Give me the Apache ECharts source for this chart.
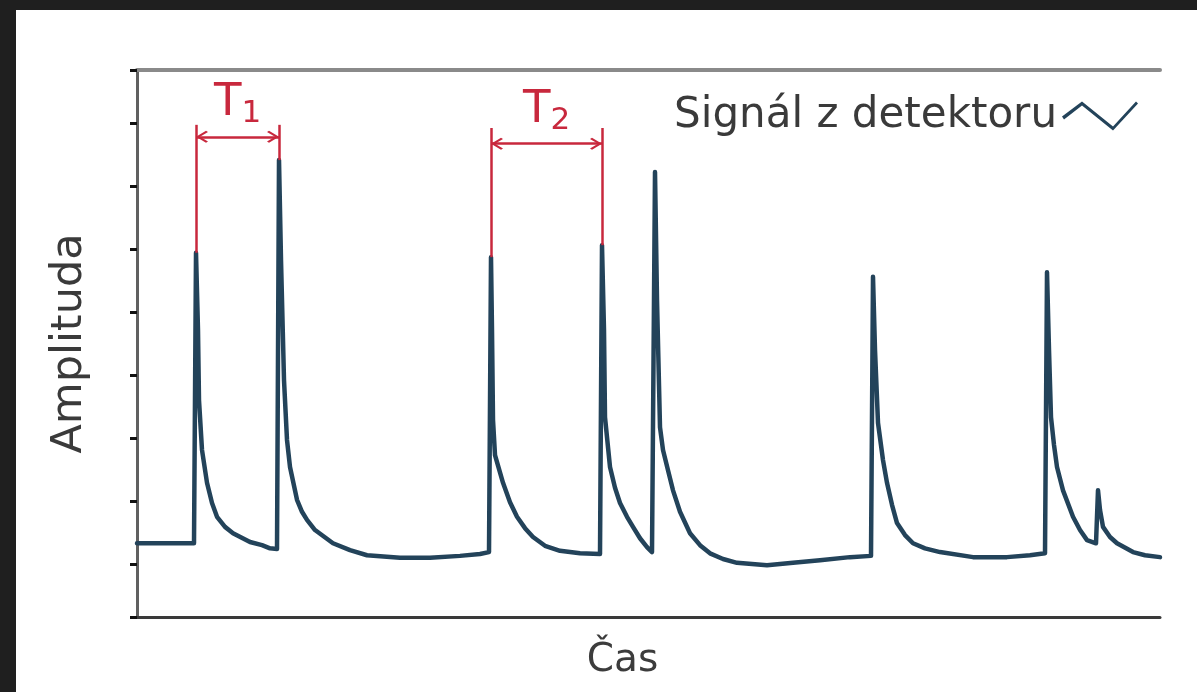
<!DOCTYPE html>
<html>
<head>
<meta charset="utf-8">
<script src="https://cdn.jsdelivr.net/npm/echarts@6/dist/echarts.min.js"></script>
<style>
  html, body { margin: 0; padding: 0; background: #1f1f1f; width: 1197px; height: 692px; overflow: hidden; }
  #chart { position: absolute; left: 16px; top: 10px; width: 1181px; height: 682px; background: #ffffff; }
</style>
</head>
<body>
<div id="chart"></div>
<script>
// Detector signal: time (arbitrary units) and amplitude samples
const time = [
  0, 57, 59, 61, 62, 65, 70, 75, 80, 88, 96, 113, 125, 133, 140,
  142, 144, 147, 150, 153, 160, 165, 170, 178, 196, 213, 230, 263, 293, 323, 343, 352,
  354, 355, 356, 358, 366, 373, 380, 388, 396, 408, 423, 443, 463,
  465, 467, 468, 473, 478, 483, 490, 496, 503, 510, 515,
  518, 520, 523, 526, 531, 536, 543, 553, 563, 573, 586, 600, 630, 656, 683, 713, 734,
  736, 738, 741, 746, 750, 755, 760, 768, 776, 788, 803, 836, 870, 893, 908,
  910, 912, 914, 917, 920, 926, 936, 943, 950, 959,
  961, 963, 966, 973, 980, 996, 1008, 1023
];
const amplitude = [
  1.33, 1.33, 5.94, 4.71, 3.60, 2.81, 2.29, 1.97, 1.75, 1.59, 1.49, 1.35, 1.30, 1.25, 1.24,
  7.41, 5.83, 3.92, 2.97, 2.54, 2.02, 1.83, 1.70, 1.54, 1.33, 1.22, 1.14, 1.10, 1.10, 1.13, 1.16, 1.19,
  5.87, 4.71, 3.29, 2.73, 2.29, 1.98, 1.75, 1.57, 1.43, 1.29, 1.21, 1.17, 1.16,
  6.06, 4.71, 3.33, 2.54, 2.21, 1.97, 1.75, 1.59, 1.41, 1.27, 1.19,
  7.22, 5.19, 3.17, 2.81, 2.49, 2.17, 1.83, 1.49, 1.30, 1.17, 1.08, 1.02, 0.98, 1.02, 1.06, 1.11, 1.13,
  5.56, 4.40, 3.24, 2.65, 2.29, 1.94, 1.65, 1.46, 1.33, 1.25, 1.19, 1.11, 1.11, 1.14, 1.17,
  5.63, 4.40, 3.33, 2.89, 2.54, 2.17, 1.75, 1.54, 1.38, 1.33,
  2.17, 1.86, 1.59, 1.43, 1.33, 1.19, 1.14, 1.11
];

// Axis extents and tick positions
const timeRange = [0, 1023];
const ampRange = [0.16, 8.84];
const ampTicks = [0.16, 1, 2, 3, 4, 5, 6, 7, 8, 8.84];

// Period brackets T1, T2 between neighbouring peaks
const periodNames = ['1', '2'];
const periodStart = [59, 354];
const periodEnd = [142, 465];
const bracketTop = [7.97, 7.92];
const arrowLevel = [7.78, 7.67];

const seriesName = 'Signál z detektoru';
const axisNameX = 'Čas';
const axisNameY = 'Amplituda';

const LINE = '#23435a';
const RED = '#c8283d';
const FONT = 'DejaVu Sans';

const peakAt = t => amplitude[time.indexOf(t)];

// open chevron arrow head, tip at the centre of its box
const chevron = 'path://M5 0 L5.01 0 Z M5 6 L10 11 L9 12 L5 8 L1 12 L0 11 Z';

const markData = [];
periodNames.forEach((n, i) => {
  const a = periodStart[i], b = periodEnd[i];
  markData.push([{ coord: [a, peakAt(a)], symbol: 'none' }, { coord: [a, bracketTop[i]], symbol: 'none' }]);
  markData.push([{ coord: [b, peakAt(b)], symbol: 'none' }, { coord: [b, bracketTop[i]], symbol: 'none' }]);
  markData.push([
    {
      coord: [a, arrowLevel[i]], symbol: chevron, symbolSize: [12, 24],
      label: {
        show: true, position: 'insideMiddleTop', distance: 11,
        formatter: '{t|T}{s|' + n + '}',
        rich: {
          t: { fontSize: 45, fontFamily: FONT, color: RED, verticalAlign: 'top', lineHeight: 45 },
          s: { fontSize: 31, fontFamily: FONT, color: RED, padding: [22, 0, 0, 0], lineHeight: 31 }
        }
      }
    },
    { coord: [b, arrowLevel[i]], symbol: chevron, symbolSize: [12, 24] }
  ]);
});

const chart = echarts.init(document.getElementById('chart'), null, { renderer: 'canvas' });
chart.setOption({
  animation: false,
  backgroundColor: '#ffffff',
  grid: { left: 121, right: 37, top: 60, bottom: 75, show: false },
  legend: {
    data: [{ name: seriesName, icon: 'path://M0 15 L20 0 L51 25 L74 0 L76 2 L51 29 L20 4 L2 18 Z' }],
    right: 54, top: 80,
    align: 'right',
    itemWidth: 76, itemHeight: 29,
    symbolKeepAspect: false,
    selectedMode: false,
    itemStyle: { color: LINE, borderWidth: 0 },
    textStyle: { fontSize: 42, fontFamily: FONT, color: '#3a3a3a' }
  },
  xAxis: [
    {
      type: 'value', min: timeRange[0], max: timeRange[1], position: 'bottom',
      name: axisNameX, nameLocation: 'middle', nameGap: 24,
      nameTextStyle: { fontSize: 39, fontFamily: FONT, color: '#3c3c3c', padding: [0, 52, 0, 0] },
      axisLine: { show: true, lineStyle: { color: '#3a3a3a', width: 3 } },
      axisTick: { show: false }, axisLabel: { show: false }, splitLine: { show: false }
    },
    {
      type: 'value', min: timeRange[0], max: timeRange[1], position: 'top',
      axisLine: { show: true, lineStyle: { color: '#8a8a8a', width: 4 } },
      axisTick: { show: false }, axisLabel: { show: false }, splitLine: { show: false }
    }
  ],
  yAxis: [
    {
      type: 'value', min: ampRange[0], max: ampRange[1], position: 'left',
      name: axisNameY, nameLocation: 'middle', nameGap: 46, nameRotate: 90,
      nameTextStyle: { fontSize: 43, fontFamily: FONT, color: '#3a3a3a' },
      axisLine: { show: true, lineStyle: { color: '#111111', width: 3 } },
      axisTick: { show: true, inside: false, length: 7, customValues: ampTicks, lineStyle: { color: '#111111', width: 3 } },
      axisLabel: { show: false }, splitLine: { show: false }
    },
    {
      type: 'value', min: ampRange[0], max: ampRange[1], position: 'right',
      axisLine: { show: true, lineStyle: { color: '#606060', width: 3 } },
      axisTick: { show: false }, axisLabel: { show: false }, splitLine: { show: false }
    }
  ],
  series: [{
    name: seriesName,
    type: 'line',
    color: LINE,
    data: time.map((t, i) => [t, amplitude[i]]),
    showSymbol: false,
    symbol: 'none',
    sampling: false,
    lineStyle: { color: LINE, width: 4.5, join: 'round', cap: 'round' },
    markLine: {
      silent: true,
      animation: false,
      label: { show: false },
      lineStyle: { color: RED, width: 2.5, type: 'solid' },
      itemStyle: { color: RED },
      emphasis: { disabled: true },
      data: markData
    }
  }]
});
</script>
</body>
</html>
